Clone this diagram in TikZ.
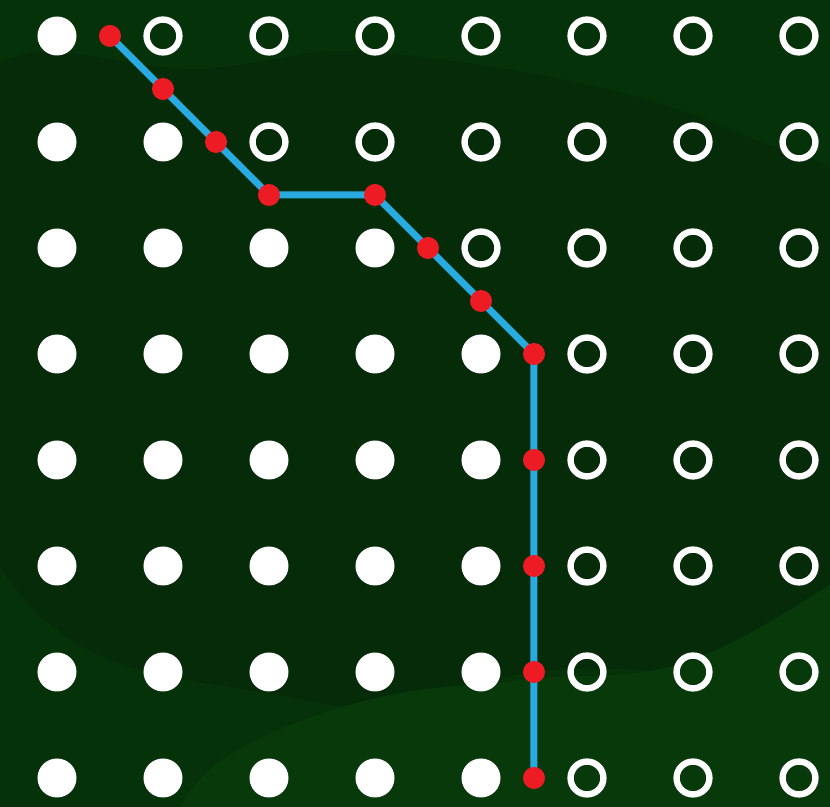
\documentclass[tikz,border=0pt]{standalone}
\usetikzlibrary{positioning}
\definecolor{bgbase}{HTML}{06320A}
\definecolor{bgdark}{HTML}{052B08}
\definecolor{bglight}{HTML}{07390B}
\definecolor{pathblue}{HTML}{29ABE2}
\definecolor{stepred}{HTML}{ED1C24}

\begin{document}
\begin{tikzpicture}[
    x=2cm, y=2cm,
    line/.style={draw=pathblue, line width=0.132cm, line join=round},
    full/.style={circle, fill=white, inner sep=0pt, minimum size=0.736cm},
    ring/.style={circle, draw=white, line width=0.12cm, inner sep=0pt, minimum size=0.62cm},
    hit/.style={circle, fill=stepred, inner sep=0pt, minimum size=0.415cm}
]
% Background
\useasboundingbox (-0.5377,0.3396) rectangle (7.2925,-7.2736);
\fill[bgbase] (-0.5377,0.3396) rectangle (7.2925,-7.2736);
\begin{scope}
\clip (-0.5377,0.3396) rectangle (7.2925,-7.2736);
\fill[bgdark] plot[smooth cycle, tension=0.8] coordinates {
    (-0.9,-0.7) (1.5,-0.3) (3.46,-0.2) (6.45,-0.92) (7.6,-2.0)
    (7.6,-5.5) (4.5,-6.0) (2.3,-6.26) (-0.6,-4.9)};
\fill[bglight] plot[smooth, tension=0.7] coordinates {
    (1.1,-7.4) (1.6,-6.8) (2.95,-6.26) (4.46,-6.07) (5.95,-5.9) (7.4,-5.1)}
    -- (7.4,-7.4) -- cycle;
\end{scope}
% Grid of dots
\foreach \j/\n in {0/1,1/2,2/4,3/5,4/5,5/5,6/5,7/5}{
  \foreach \i in {0,...,7}{
    \ifnum\i<\n
      \node[full] (dot-\i-\j) at (\i,-\j) {};
    \else
      \node[ring] (dot-\i-\j) at (\i,-\j) {};
    \fi
  }
}
% Path points
\coordinate (s1) at (0.5,0);
\coordinate (s2) at (1,-0.5);
\coordinate (s3) at (1.5,-1);
\coordinate (s4) at (2,-1.5);
\coordinate (s5) at (3,-1.5);
\coordinate (s6) at (3.5,-2);
\coordinate (s7) at (4,-2.5);
\coordinate (s8) at (4.5,-3);
\coordinate (s9) at (4.5,-4);
\coordinate (s10) at (4.5,-5);
\coordinate (s11) at (4.5,-6);
\coordinate (s12) at (4.5,-7);
% Path
\draw[line] (s1) -- (s2) -- (s3) -- (s4) -- (s5) -- (s6) -- (s7) -- (s8)
    -- (s9) -- (s10) -- (s11) -- (s12);
\foreach \k in {1,...,12}
  \node[hit] (h\k) at (s\k) {};
\end{tikzpicture}
\end{document}
